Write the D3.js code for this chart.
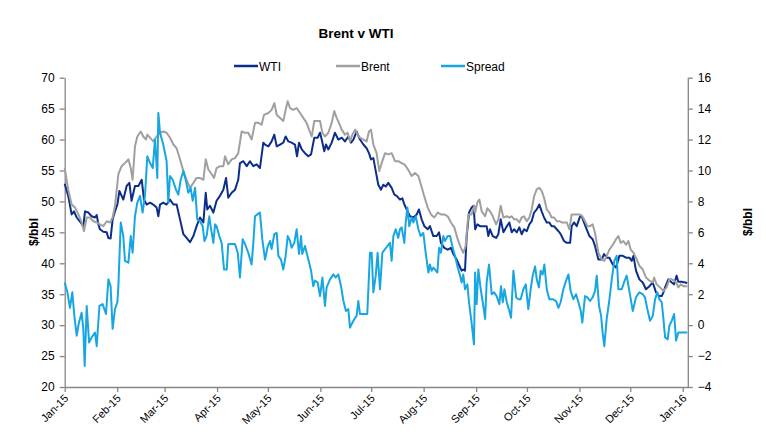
<!DOCTYPE html>
<html>
<head>
<meta charset="utf-8">
<script src="https://cdn.jsdelivr.net/npm/d3@7/dist/d3.min.js"></script>
<style>
  html, body { margin: 0; padding: 0; background: #fff; }
  svg { display: block; font-family: "Liberation Sans", Arial, sans-serif; }
</style>
</head>
<body>
<svg id="chart" width="766" height="444"></svg>
<script>
// ---- DATA (day offset from 1 Jan 2015, value) ----
const title = "Brent v WTI";
const seriesNames = ["WTI", "Brent", "Spread"];
const leftTicks = [20, 25, 30, 35, 40, 45, 50, 55, 60, 65, 70];
const rightTicks = [-4, -2, 0, 2, 4, 6, 8, 10, 12, 14, 16];
const axisTitle = "$/bbl";

const wti = [
  [0,52.85],[2.1,50.9],[4.1,47.9],[5.5,48.4],[7.1,47.4],[9.4,46.6],[11.0,46.0],[12.0,48.4],[14.0,48.2],
  [15.9,47.6],[17.9,47.4],[18.9,47.8],[19.9,46.3],[20.8,45.5],[22.8,45.1],[24.8,45.0],[25.8,44.1],[27.1,44.0],
  [28.3,47.1],[29.7,48.4],[31.1,49.5],[32.3,51.7],[34.6,50.3],[36.6,52.5],[38.2,53.0],[39.5,50.1],[41.5,52.5],
  [43.5,52.5],[45.5,53.5],[46.8,50.3],[48.4,49.5],[50.4,49.8],[52.3,49.5],[54.3,49.0],[55.3,47.6],[56.3,49.5],
  [58.2,49.8],[60.2,49.5],[62.2,50.3],[64.2,49.5],[66.1,49.5],[68.1,47.1],[70.1,44.7],[72.0,44.1],[74.0,43.4],
  [76.0,44.4],[77.9,46.0],[79.9,47.4],[81.9,46.6],[83.3,51.4],[84.2,48.7],[85.8,49.3],[87.8,48.2],[89.7,50.1],
  [91.7,50.9],[93.7,51.9],[95.3,53.8],[96.6,50.6],[98.6,51.4],[100.6,51.9],[102.5,53.5],[103.5,56.2],[105.5,56.5],
  [107.5,55.7],[109.4,56.5],[111.4,55.7],[113.4,56.0],[115.3,55.4],[117.3,59.5],[118.3,59.2],[120.3,58.9],
  [122.2,59.7],[123.8,60.8],[125.2,58.9],[127.2,59.2],[129.1,59.5],[130.5,60.5],[132.1,59.7],[134.0,59.5],
  [136.0,59.2],[137.2,57.3],[138.4,59.5],[140.0,58.4],[141.9,57.8],[143.9,57.3],[145.5,57.6],[147.4,60.3],
  [149.4,60.3],[150.8,61.1],[151.8,60.0],[153.3,58.1],[154.3,59.2],[155.7,58.4],[157.7,59.5],[159.6,61.1],
  [161.6,60.0],[163.6,60.3],[165.5,59.7],[167.5,60.5],[169.1,59.5],[170.5,60.0],[172.4,61.3],[174.4,60.0],
  [176.4,59.2],[178.3,58.6],[179.7,57.8],[180.9,56.8],[182.3,57.0],[183.7,54.9],[185.2,52.7],[186.8,51.9],
  [188.2,52.7],[189.6,52.4],[191.1,53.0],[193.1,52.2],[194.7,51.1],[196.1,50.9],[198.0,50.3],[199.4,50.5],
  [200.6,49.5],[202.0,48.7],[203.9,47.6],[205.9,47.4],[207.9,47.9],[209.2,48.7],[210.8,47.1],[212.4,46.0],
  [214.4,45.5],[215.7,46.0],[217.7,44.4],[219.7,44.4],[221.1,45.0],[222.2,43.3],[224.2,42.5],[226.2,42.2],
  [228.1,42.5],[229.5,41.5],[231.5,40.6],[233.1,39.6],[234.4,38.8],[235.4,39.0],[236.4,38.8],[237.4,44.4],
  [238.8,48.2],[240.3,49.0],[241.5,49.3],[242.4,45.5],[243.7,46.3],[245.3,46.0],[247.3,46.0],[249.2,46.0],
  [250.2,44.4],[251.2,45.5],[252.8,44.4],[254.8,44.1],[256.1,44.7],[257.5,47.1],[259.1,45.0],[260.7,45.8],
  [262.6,46.6],[264.0,45.0],[265.4,45.5],[267.0,45.0],[268.5,45.8],[269.9,44.7],[271.3,45.5],[272.9,45.2],
  [274.4,46.3],[275.8,46.8],[277.2,48.2],[278.8,48.7],[280.3,49.5],[281.7,48.4],[283.1,47.4],[284.7,46.6],
  [286.2,46.6],[287.6,46.0],[289.0,46.0],[290.6,45.5],[292.2,45.0],[293.5,44.4],[294.9,43.6],[296.5,43.3],
  [298.5,43.3],[299.4,46.0],[300.8,46.6],[302.4,46.0],[304.4,47.6],[305.3,47.6],[306.7,46.6],[308.3,45.5],
  [309.9,44.4],[311.8,43.9],[313.2,42.8],[315.2,40.6],[317.2,40.6],[318.5,41.5],[320.1,40.9],[321.7,40.9],
  [323.7,39.8],[325.6,39.3],[327.6,41.2],[329.6,41.2],[331.5,40.9],[333.5,40.9],[334.9,40.4],[335.9,41.2],
  [337.4,38.8],[339.4,37.4],[341.4,36.9],[343.3,35.8],[345.3,36.3],[347.3,36.9],[349.2,35.3],[351.2,34.7],
  [352.6,34.7],[353.6,35.3],[354.6,36.1],[356.5,37.4],[358.5,36.9],[359.9,36.6],[361.4,38.0],[362.4,37.0],
  [364.4,37.0],[366.4,36.9],[367.7,36.8]
];

const brent = [
  [0,55.4],[2.1,51.9],[4.1,49.5],[6.1,49.0],[8.1,47.9],[10.0,46.6],[11.4,45.2],[13.0,47.4],[14.9,47.4],
  [16.9,46.8],[18.9,46.6],[20.8,46.3],[22.8,46.0],[24.8,46.8],[26.8,46.6],[28.3,47.4],[29.7,49.3],[31.7,54.4],
  [33.6,55.7],[35.6,56.2],[37.6,56.8],[39.0,55.4],[40.1,53.5],[41.5,58.9],[42.9,60.5],[44.9,61.3],[46.4,60.5],
  [48.0,60.0],[48.8,60.8],[50.4,60.3],[52.3,59.7],[54.3,60.5],[56.3,61.1],[58.2,61.3],[60.2,61.1],[62.2,60.3],
  [64.2,59.2],[66.1,58.6],[68.1,56.8],[70.1,54.9],[72.0,53.5],[74.0,52.2],[76.0,53.0],[77.9,53.8],[79.9,53.8],
  [81.9,53.5],[83.3,56.8],[84.8,55.2],[86.8,54.4],[88.2,53.8],[89.7,55.4],[91.7,55.7],[93.7,55.7],[94.7,57.3],
  [96.6,56.0],[98.6,56.8],[100.6,57.0],[102.5,57.8],[104.5,61.3],[106.5,61.1],[108.4,61.1],[110.4,60.0],
  [112.4,62.7],[114.4,62.7],[116.3,62.4],[117.7,64.0],[120.3,64.3],[122.2,64.8],[123.8,65.9],[125.2,64.0],
  [127.2,63.5],[129.1,63.0],[130.5,64.8],[131.7,66.2],[133.1,65.1],[135.0,64.8],[137.0,65.1],[139.0,64.3],
  [140.9,63.5],[142.9,62.7],[144.3,61.6],[145.9,60.5],[147.4,63.0],[149.4,63.0],[150.8,63.0],[152.2,61.1],
  [153.7,60.5],[155.7,61.1],[157.7,62.7],[159.2,64.6],[160.6,63.5],[162.0,62.7],[163.6,61.6],[165.5,60.8],
  [167.1,61.1],[168.5,59.7],[169.9,60.8],[171.5,61.6],[173.0,60.8],[174.4,60.3],[176.4,60.0],[178.3,59.7],
  [179.7,61.3],[180.9,61.6],[182.3,59.2],[184.2,57.8],[185.8,54.9],[187.2,56.2],[189.2,57.8],[191.1,57.6],
  [193.1,57.8],[195.1,56.5],[197.0,56.5],[199.0,56.2],[201.0,55.9],[202.9,55.1],[204.9,54.1],[206.9,54.6],
  [208.9,54.1],[210.4,52.7],[212.4,50.8],[214.4,49.0],[216.3,47.9],[218.3,47.4],[220.3,48.2],[222.2,47.9],
  [224.2,47.9],[226.2,47.6],[228.1,46.6],[230.1,45.8],[232.1,43.9],[234.0,42.5],[235.4,41.7],[236.8,42.8],
  [238.4,47.9],[240.3,47.9],[241.9,49.3],[242.4,48.2],[243.7,49.8],[244.9,50.3],[246.3,48.4],[248.3,47.6],
  [249.6,48.9],[251.2,48.4],[252.8,47.6],[254.8,46.3],[256.1,47.1],[257.5,49.3],[259.1,47.4],[261.1,47.6],
  [262.6,47.4],[264.0,47.6],[265.4,47.1],[267.0,47.1],[268.5,46.6],[269.9,47.4],[271.3,47.6],[272.9,46.8],
  [274.4,47.4],[275.8,48.7],[277.2,50.8],[278.8,52.0],[280.3,52.2],[281.7,51.7],[283.1,50.6],[284.7,48.7],
  [286.2,48.2],[287.6,47.4],[289.0,47.4],[290.6,46.8],[292.2,46.8],[293.5,46.6],[294.9,46.6],[296.5,46.6],
  [298.1,45.5],[299.4,47.9],[300.8,47.9],[302.4,47.9],[304.4,47.9],[305.7,47.6],[307.3,46.8],[308.7,46.0],
  [310.3,46.0],[311.8,46.3],[313.2,44.9],[315.2,41.7],[317.2,40.6],[318.7,40.4],[320.1,41.2],[321.7,42.2],
  [323.7,43.0],[325.6,43.9],[327.0,44.4],[328.4,43.3],[330.0,43.6],[331.5,43.0],[332.9,43.6],[334.3,42.2],
  [335.9,41.7],[337.4,40.9],[339.4,39.6],[341.4,39.0],[343.3,37.7],[345.3,37.2],[347.3,36.9],[348.1,37.7],
  [349.6,36.6],[351.6,36.1],[353.6,35.5],[355.5,36.1],[357.1,37.4],[358.5,37.4],[359.9,37.2],[361.1,36.9],
  [362.4,36.1],[363.8,36.6],[365.4,36.3],[367.7,36.3]
];

const spread = [
  [0,2.76],[1.6,2.12],[3.1,1.12],[4.5,2.12],[5.7,0.6],[7.1,-0.68],[8.4,0.16],[10.0,0.8],[11.0,-0.24],
  [11.8,-2.64],[13.0,1.24],[14.4,-1.12],[15.9,-0.8],[17.9,-0.48],[18.9,-1.36],[20.5,1.24],[22.4,1.36],
  [24.4,0.72],[25.8,2.96],[27.1,2.52],[28.3,-0.24],[29.7,1.04],[31.1,1.48],[31.7,2.52],[33.1,6.64],[34.6,5.76],
  [35.6,4.16],[37.6,4.04],[39.0,5.76],[40.1,4.68],[41.5,7.04],[42.9,7.92],[44.5,8.36],[46.0,7.28],[47.4,8.36],
  [48.8,10.92],[50.4,10.48],[52.0,10.16],[53.3,12.0],[54.7,9.52],[55.3,13.72],[56.3,12.44],[58.2,11.68],
  [60.2,10.6],[61.2,7.92],[62.2,9.64],[63.8,9.4],[65.7,8.76],[67.1,8.44],[68.5,9.4],[70.1,9.96],[71.6,9.32],
  [73.0,8.56],[74.4,8.88],[75.6,8.04],[77.0,8.88],[78.3,6.84],[79.9,6.72],[81.5,6.4],[82.5,5.44],[83.8,5.76],
  [85.4,7.04],[86.2,6.4],[87.8,5.32],[88.8,6.52],[89.7,6.4],[91.3,5.76],[92.7,5.32],[94.1,3.6],[95.7,3.6],
  [96.6,5.24],[98.6,5.24],[100.6,5.24],[102.2,4.68],[103.5,3.08],[105.1,5.56],[106.5,5.24],[108.4,4.68],
  [110.4,3.92],[111.4,5.32],[112.4,7.04],[113.8,7.16],[115.3,7.28],[116.7,5.56],[118.3,4.24],[119.9,5.08],
  [121.3,5.44],[122.2,4.92],[123.8,5.88],[125.2,5.96],[126.2,4.48],[127.7,4.24],[129.1,3.6],[130.5,4.48],
  [131.7,5.76],[133.1,5.44],[134.0,5.0],[135.6,5.32],[137.0,6.2],[138.4,4.6],[139.6,5.76],[140.3,4.6],
  [141.9,5.12],[143.9,4.24],[145.5,3.52],[146.8,2.52],[147.8,2.88],[149.4,2.76],[150.8,1.88],[152.2,3.08],
  [153.7,1.24],[154.7,2.44],[156.7,2.96],[158.7,3.28],[160.0,3.08],[161.6,3.28],[163.2,2.52],[164.6,1.56],
  [166.1,0.92],[167.5,1.04],[168.5,-0.16],[169.9,0.16],[171.1,0.4],[172.4,0.6],[173.4,1.56],[174.4,0.72],
  [175.8,0.72],[177.4,0.72],[178.7,0.72],[180.3,4.68],[181.3,4.68],[182.3,2.12],[183.7,3.2],[184.8,4.68],
  [186.2,2.32],[187.6,4.68],[189.2,4.92],[190.7,5.12],[192.1,5.32],[193.1,4.16],[194.1,5.76],[195.5,6.2],
  [197.0,5.64],[198.0,6.2],[199.0,6.32],[200.6,5.32],[201.4,6.64],[202.4,7.6],[203.5,6.4],[204.9,6.96],
  [205.9,6.64],[207.3,7.04],[208.9,6.2],[210.2,5.76],[211.8,5.96],[213.2,4.68],[214.8,3.4],[215.7,3.92],
  [216.7,3.52],[217.7,3.72],[218.7,3.6],[220.1,3.4],[221.1,5.0],[222.2,4.68],[223.6,5.76],[224.6,5.44],
  [226.2,5.76],[227.6,5.76],[228.9,5.12],[230.5,4.48],[232.1,3.72],[233.5,3.2],[234.4,2.76],[235.4,3.28],
  [236.4,2.32],[237.8,2.64],[238.8,1.48],[240.3,0.16],[241.7,-1.24],[242.4,3.4],[243.3,1.36],[244.3,3.6],
  [245.7,2.32],[246.9,1.48],[248.3,0.4],[249.2,2.76],[250.6,3.92],[252.2,2.0],[253.6,2.12],[255.1,1.88],
  [256.7,1.36],[257.7,2.52],[258.7,1.48],[259.7,2.32],[261.1,1.48],[262.6,0.92],[263.6,0.48],[265.0,3.52],
  [266.6,1.8],[267.9,1.68],[269.3,1.68],[270.9,2.32],[272.3,2.64],[273.8,1.04],[275.2,2.32],[276.4,3.2],
  [277.8,3.8],[278.8,2.96],[280.1,2.44],[281.1,3.52],[282.3,3.28],[283.3,3.92],[284.7,2.32],[286.2,1.68],
  [288.2,1.68],[290.2,1.56],[291.6,1.12],[292.9,1.48],[294.5,2.32],[296.1,2.88],[297.5,3.28],[298.8,2.2],
  [300.4,1.68],[302.0,2.0],[303.4,1.48],[304.8,0.92],[305.7,0.16],[307.3,1.88],[308.7,1.8],[310.3,1.56],
  [311.8,1.8],[313.2,2.2],[314.2,3.2],[315.6,1.24],[316.8,0.6],[317.7,-0.48],[318.7,-1.36],[320.1,0.4],
  [321.5,1.48],[323.1,2.96],[324.6,4.16],[326.0,4.48],[327.0,2.32],[329.0,2.32],[330.3,2.76],[331.9,3.2],
  [333.5,2.2],[335.5,0.92],[337.4,1.8],[339.4,2.12],[341.4,2.0],[342.7,1.8],[344.1,1.04],[345.7,0.28],
  [347.3,0.6],[348.7,1.68],[350.0,2.12],[351.2,1.68],[352.6,1.48],[353.6,0.4],[354.6,-0.8],[356.1,-0.92],
  [357.1,-0.04],[358.5,0.28],[359.9,0.72],[361.1,-1.0],[362.4,-0.48],[363.8,-0.48],[365.4,-0.48],[367.7,-0.48]
];

// ---- DRAWING ----
const colors = { WTI: "#0c2e8a", Brent: "#a0a0a0", Spread: "#17a6e2" };
const axisColor = "#868686";
const svg = d3.select("#chart");
const start = new Date(2015, 0, 1);
const dayToDate = d => new Date(start.getTime() + d * 86400000);

const plot = { left: 64.7, right: 687.8, top: 77.7, bottom: 387 };
const x = d3.scaleTime()
  .domain([start, new Date(2016, 0, 4)])
  .range([plot.left, plot.right]);
const yL = d3.scaleLinear().domain([20, 70]).range([plot.bottom, plot.top]);
const yR = d3.scaleLinear().domain([-4, 16]).range([plot.bottom, plot.top]);

// Title
svg.append("text")
  .attr("x", 356).attr("y", 38)
  .attr("text-anchor", "middle")
  .attr("font-size", 13.5).attr("font-weight", "bold")
  .attr("fill", "#000")
  .text(title);

// Legend
const legendX = [234, 336, 441];
const leg = svg.append("g");
seriesNames.forEach((name, i) => {
  const g = leg.append("g").attr("transform", `translate(${legendX[i]},66)`);
  g.append("line").attr("x1", 0).attr("x2", 24).attr("y1", 0).attr("y2", 0)
    .attr("stroke", colors[name]).attr("stroke-width", 2.5);
  g.append("text").attr("x", 25).attr("y", 4.5)
    .attr("font-size", 12).attr("fill", "#000").text(name);
});

// Axes
function styleAxis(g) {
  g.selectAll("path.domain").attr("stroke", axisColor).attr("stroke-width", 1.3);
  g.selectAll(".tick line").attr("stroke", axisColor).attr("stroke-width", 1.3);
  g.selectAll(".tick text").attr("fill", "#000").attr("font-family", "Liberation Sans, Arial, sans-serif");
}

const gL = svg.append("g").attr("transform", `translate(${plot.left},0)`)
  .call(d3.axisLeft(yL).tickValues(leftTicks).tickSize(5).tickSizeOuter(0).tickPadding(5));
styleAxis(gL);
gL.selectAll(".tick text").attr("font-size", 12);

const gR = svg.append("g").attr("transform", `translate(${plot.right},0)`)
  .call(d3.axisRight(yR).tickValues(rightTicks).tickSize(5).tickSizeOuter(0).tickPadding(5));
styleAxis(gR);
gR.selectAll(".tick text").attr("font-size", 12);

const monthTicks = d3.timeMonth.range(new Date(2015, 0, 1), new Date(2016, 0, 2));
const gX = svg.append("g").attr("transform", `translate(0,${plot.bottom})`)
  .call(d3.axisBottom(x).tickValues(monthTicks).tickFormat(d3.timeFormat("%b-%y")).tickSize(5).tickSizeOuter(0));
styleAxis(gX);
gX.selectAll(".tick text")
  .attr("font-size", 11)
  .attr("text-anchor", "end")
  .attr("dy", 0).attr("y", 0)
  .attr("transform", "translate(4,12) rotate(-45)");

// Axis titles
svg.append("text")
  .attr("transform", "translate(38,232) rotate(-90)")
  .attr("text-anchor", "middle").attr("font-size", 12).attr("font-weight", "bold")
  .text(axisTitle);
svg.append("text")
  .attr("transform", "translate(752,222) rotate(-90)")
  .attr("text-anchor", "middle").attr("font-size", 12).attr("font-weight", "bold")
  .text(axisTitle);

// Lines
const lineL = d3.line().x(d => x(dayToDate(d[0]))).y(d => yL(d[1]));
const lineR = d3.line().x(d => x(dayToDate(d[0]))).y(d => yR(d[1]));

svg.append("path").datum(wti).attr("d", lineL)
  .attr("fill", "none").attr("stroke", colors.WTI).attr("stroke-width", 2).attr("stroke-linejoin", "round");
svg.append("path").datum(brent).attr("d", lineL)
  .attr("fill", "none").attr("stroke", colors.Brent).attr("stroke-width", 2).attr("stroke-linejoin", "round");
svg.append("path").datum(spread).attr("d", lineR)
  .attr("fill", "none").attr("stroke", colors.Spread).attr("stroke-width", 2).attr("stroke-linejoin", "round");
</script>
</body>
</html>
